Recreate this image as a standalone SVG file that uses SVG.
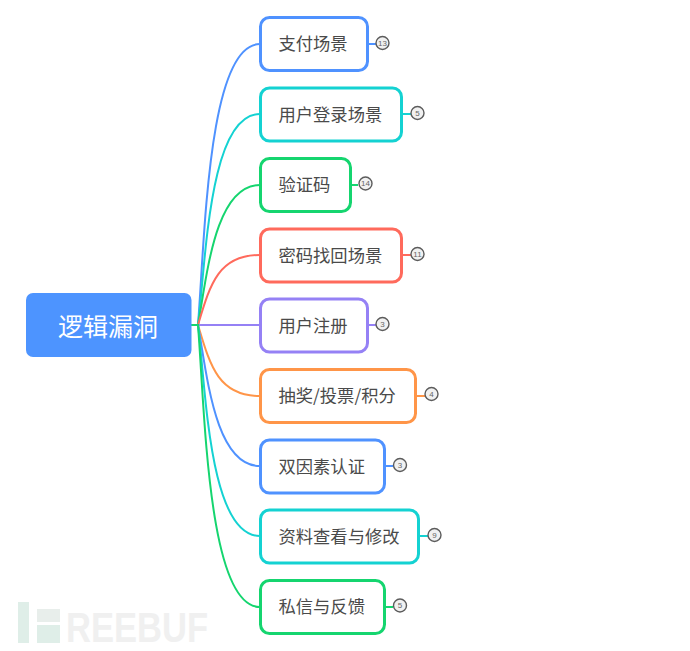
<svg xmlns="http://www.w3.org/2000/svg" width="690" height="651" viewBox="0 0 690 651">
<style>
text{font-family:"Noto Sans CJK SC","Noto Sans",sans-serif}
.n{fill:#fff;stroke-width:3}
.t{font-size:17.3px;fill:#4a4a4a;dominant-baseline:central}
.c{fill:none;stroke-width:2}
.b{fill:#f1f1f1;stroke:#5c5c5c;stroke-width:1.4}
.bt{font-family:"Liberation Sans",sans-serif;font-size:8px;fill:#666;text-anchor:middle;dominant-baseline:central}
.blue{stroke:#4f92ff}.cyan{stroke:#14d2d2}.green{stroke:#15d56f}.red{stroke:#ff6a5c}.purple{stroke:#9581f5}.orange{stroke:#ff9548}
</style>
<g id="watermark">
<rect x="18" y="602" width="11" height="41" fill="#dfeee8"/>
<rect x="37" y="609" width="23" height="13" fill="#e8eeeb"/>
<rect x="37" y="625" width="23" height="18" fill="#dfeee8"/>
<text x="66" y="642" font-size="42" font-weight="700" textLength="142" lengthAdjust="spacingAndGlyphs" style="font-family:'Liberation Sans',sans-serif" fill="#f0f0f0">REEBUF</text>
</g>
<g id="connectors">
<path class="c blue" d="M198 325C205 235 208 44 260 44"/>
<path class="c cyan" d="M198 325C206 260 209 114 260 114"/>
<path class="c green" d="M198 325C207 275 215 185 260 185"/>
<path class="c red" d="M198 325C210 285 218 255 260 255"/>
<path class="c purple" d="M198 325H260"/>
<path class="c orange" d="M198 325C210 365 218 396 260 396"/>
<path class="c blue" d="M198 325C207 375 215 466 260 466"/>
<path class="c cyan" d="M198 325C206 390 209 536 260 536"/>
<path class="c green" d="M198 325C205 415 208 607 260 607"/>
<path class="c green" d="M191 325H199"/>
<path class="c blue" d="M368 44H376"/>
<path class="c cyan" d="M402 114H411"/>
<path class="c green" d="M350 185H358"/>
<path class="c red" d="M402 255H411"/>
<path class="c purple" d="M368 325H376"/>
<path class="c orange" d="M416 396H425"/>
<path class="c blue" d="M385 466H393"/>
<path class="c cyan" d="M419 536H428"/>
<path class="c green" d="M385 607H393"/>
</g>
<g id="root"><rect x="26" y="293" width="165.500" height="64" rx="7" fill="#4d94ff"/><text x="108" y="325" font-size="25" fill="#fff" text-anchor="middle" dominant-baseline="central">逻辑漏洞</text></g>
<g id="n1"><rect class="n blue" x="260.500" y="17.500" width="107" height="53" rx="9"/><text class="t" x="278.500" y="42.500">支付场景</text><circle class="b" cx="382.500" cy="43" r="6.500"/><text class="bt" x="382.500" y="43">13</text></g>
<g id="n2"><rect class="n cyan" x="260.500" y="88" width="141" height="53" rx="9"/><text class="t" x="278.500" y="113.500">用户登录场景</text><circle class="b" cx="417.500" cy="113" r="6.500"/><text class="bt" x="417.500" y="113">5</text></g>
<g id="n3"><rect class="n green" x="260.500" y="158.500" width="90" height="53" rx="9"/><text class="t" x="278.500" y="183.500">验证码</text><circle class="b" cx="365.500" cy="183.500" r="6.500"/><text class="bt" x="365.500" y="183.500">14</text></g>
<g id="n4"><rect class="n red" x="260.500" y="229" width="141" height="53" rx="9"/><text class="t" x="278.500" y="254">密码找回场景</text><circle class="b" cx="417.500" cy="254" r="6.500"/><text class="bt" x="417.500" y="254">11</text></g>
<g id="n5"><rect class="n purple" x="260.500" y="299" width="107" height="53" rx="9"/><text class="t" x="278.500" y="324.500">用户注册</text><circle class="b" cx="382.500" cy="324" r="6.500"/><text class="bt" x="382.500" y="324">3</text></g>
<g id="n6"><rect class="n orange" x="260.500" y="369.500" width="155" height="53" rx="9"/><text class="t" x="278.500" y="394.500">抽奖/投票/积分</text><circle class="b" cx="431.500" cy="394" r="6.500"/><text class="bt" x="431.500" y="394">4</text></g>
<g id="n7"><rect class="n blue" x="260.500" y="440" width="124" height="53" rx="9"/><text class="t" x="278.500" y="465.500">双因素认证</text><circle class="b" cx="400" cy="465" r="6.500"/><text class="bt" x="400" y="465">3</text></g>
<g id="n8"><rect class="n cyan" x="260.500" y="510" width="158" height="53" rx="9"/><text class="t" x="278.500" y="535.500">资料查看与修改</text><circle class="b" cx="434.500" cy="535" r="6.500"/><text class="bt" x="434.500" y="535">9</text></g>
<g id="n9"><rect class="n green" x="260.500" y="580.500" width="124" height="53" rx="9"/><text class="t" x="278.500" y="605.500">私信与反馈</text><circle class="b" cx="400" cy="605.500" r="6.500"/><text class="bt" x="400" y="605.500">5</text></g>
</svg>
